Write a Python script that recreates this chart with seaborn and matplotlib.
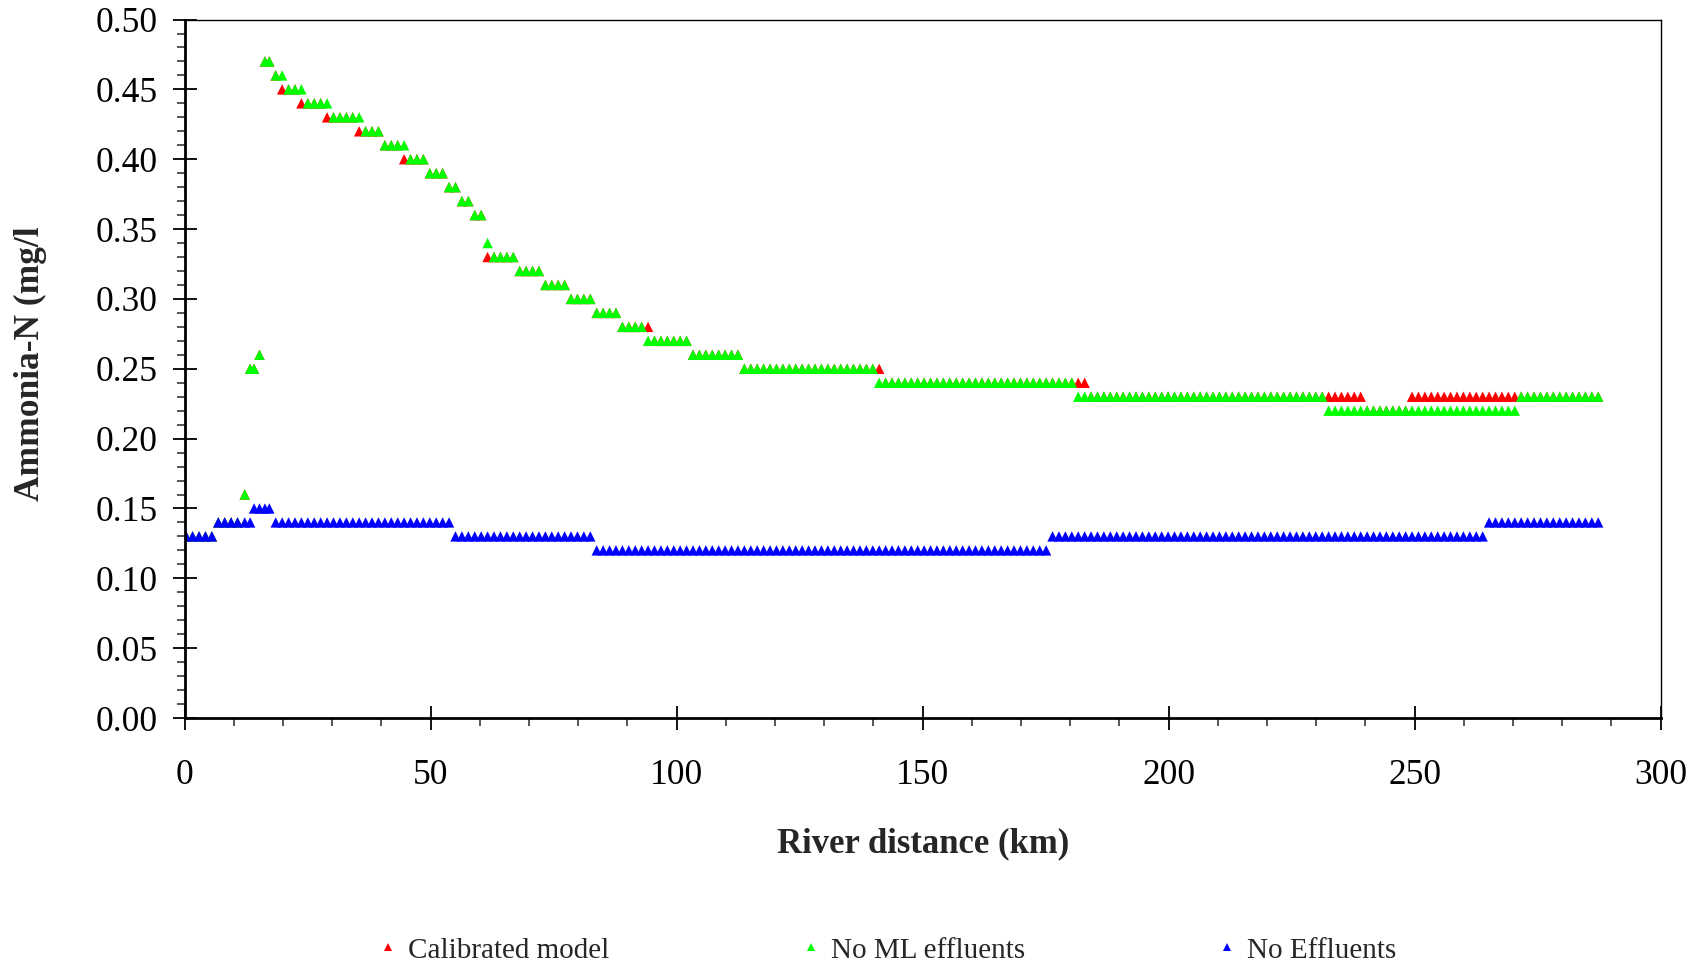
import numpy as np
import pandas as pd
import matplotlib
matplotlib.use("Agg")
import matplotlib.pyplot as plt
from matplotlib.lines import Line2D
from matplotlib.ticker import MultipleLocator, FormatStrFormatter
import seaborn as sns

# ---- data ----
# model reach grid (km): regular reaches plus a denser cluster at the first outfall
grid_start = [0.3, 18.5]
grid_step_km = 1.305
cluster_km = [12.2, 13.3, 14.1, 15.2, 16.3, 17.2]

# step levels: value applies from the given river distance onward
calib_from_km = [0, 6.2, 11.5, 12.8, 14.7, 15.8, 17.9, 19.2, 23.1, 28.3, 34.8, 40.0, 44.0,
                 49.2, 53.1, 55.7, 58.3, 60.9, 67.5, 72.7, 77.9, 83.2, 88.4, 94.8, 102.7,
                 112.8, 141.8, 183.5, 239.7, 248.8]
calib_level = [0.13, 0.14, 0.16, 0.25, 0.26, 0.47, 0.46, 0.45, 0.44, 0.43, 0.42, 0.41, 0.40,
               0.39, 0.38, 0.37, 0.36, 0.33, 0.32, 0.31, 0.30, 0.29, 0.28, 0.27, 0.26,
               0.25, 0.24, 0.23, 0.22, 0.23]

noml_from_km = [0, 6.2, 11.5, 12.8, 14.7, 15.8, 17.9, 20.5, 24.4, 29.6, 36.1, 40.0, 45.3,
                49.2, 53.1, 55.7, 58.3, 60.9, 62.2, 67.5, 72.7, 77.9, 83.2, 88.4, 93.6,
                102.7, 112.8, 140.9, 180.9, 231.9, 271.0]
noml_level = [0.13, 0.14, 0.16, 0.25, 0.26, 0.47, 0.46, 0.45, 0.44, 0.43, 0.42, 0.41, 0.40,
              0.39, 0.38, 0.37, 0.36, 0.34, 0.33, 0.32, 0.31, 0.30, 0.29, 0.28, 0.27,
              0.26, 0.25, 0.24, 0.23, 0.22, 0.23]

noeff_from_km = [0, 6.2, 13.6, 18.0, 54.0, 83.0, 175.8, 264.5]
noeff_level = [0.13, 0.14, 0.15, 0.14, 0.13, 0.12, 0.13, 0.14]

series_names = ["Calibrated model", "No ML effluents", "No Effluents"]
series_colors = ["#FF0000", "#00FF00", "#0000FF"]

# ---- build table ----
distance_km = np.sort(np.concatenate([
    np.arange(grid_start[0], 11.5, grid_step_km),
    np.array(cluster_km),
    np.arange(grid_start[1], 287.5, grid_step_km),
]))


def levels_at(x, starts, levels):
    idx = np.searchsorted(np.array(starts), x, side="right") - 1
    return np.array(levels)[idx]


frames = []
for name, starts, levels in zip(series_names,
                                [calib_from_km, noml_from_km, noeff_from_km],
                                [calib_level, noml_level, noeff_level]):
    frames.append(pd.DataFrame({"distance": distance_km,
                                "ammonia": levels_at(distance_km, starts, levels),
                                "series": name}))
df = pd.concat(frames, ignore_index=True)

# ---- plot ----
sns.set_style("white")
plt.rcParams["font.family"] = ["Liberation Serif", "DejaVu Serif"]
plt.rcParams["mathtext.fontset"] = "stix"

fig = plt.figure(figsize=(17.04, 9.63), dpi=100)
ax = fig.add_axes([0.1084, 0.2544, 0.8661, 0.7253])

sns.scatterplot(data=df, x="distance", y="ammonia", hue="series",
                hue_order=series_names, palette=series_colors,
                marker="^", s=56, linewidth=0, legend=False, ax=ax)

ax.set_xlim(0, 300)
ax.set_ylim(0, 0.5)
ax.xaxis.set_major_locator(MultipleLocator(50))
ax.xaxis.set_minor_locator(MultipleLocator(10))
ax.yaxis.set_major_locator(MultipleLocator(0.05))
ax.yaxis.set_minor_locator(MultipleLocator(0.01))
ax.yaxis.set_major_formatter(FormatStrFormatter("%.2f"))

ax.tick_params(axis="both", which="major", direction="inout", length=17, width=1.3,
               labelsize=25.5, colors="black")
ax.tick_params(axis="x", which="major", pad=21)
ax.tick_params(axis="y", which="major", pad=11)
ax.tick_params(axis="both", which="minor", direction="out", length=6, width=1.1)
ax.tick_params(bottom=True, left=True, which="both")

for side in ["left", "bottom"]:
    ax.spines[side].set_linewidth(2.0)
    ax.spines[side].set_color("black")
for side in ["top", "right"]:
    ax.spines[side].set_linewidth(1.0)
    ax.spines[side].set_color("black")

ax.set_xlabel("River distance (km)", fontsize=25, fontweight="bold")
ax.set_ylabel("Ammonia-N (mg/l", fontsize=25.5, fontweight="bold")
ax.xaxis.set_label_coords(0.5, -0.156)
ax.yaxis.set_label_coords(-0.093, 0.507)

handles = [Line2D([0], [0], marker="^", linestyle="none", markersize=6,
                  markerfacecolor=c, markeredgewidth=0) for c in series_colors]
fig.legend(handles, series_names, loc="center", bbox_to_anchor=(0.521, 0.013), ncol=3,
           frameon=False, fontsize=21, handlelength=0.6, handletextpad=0.4,
           columnspacing=6.6)

fig.savefig("out.png", dpi=100, facecolor="white")
